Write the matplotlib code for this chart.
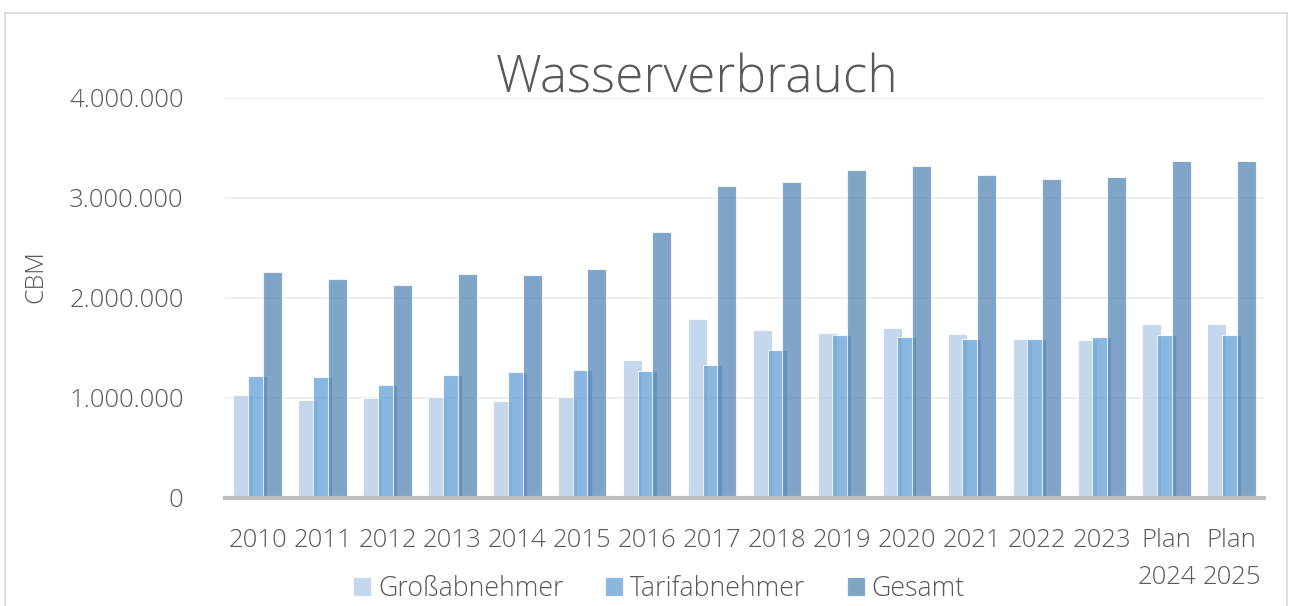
import numpy as np
import matplotlib
matplotlib.use("Agg")
import matplotlib.pyplot as plt
from matplotlib.patches import Rectangle
from matplotlib.ticker import FuncFormatter

categories = ["2010", "2011", "2012", "2013", "2014", "2015", "2016", "2017",
              "2018", "2019", "2020", "2021", "2022", "2023", "Plan\n2024", "Plan\n2025"]
grossabnehmer = [1030000, 980000, 1000000, 1010000, 970000, 1010000, 1380000, 1790000,
                 1680000, 1650000, 1700000, 1640000, 1590000, 1580000, 1740000, 1740000]
tarifabnehmer = [1220000, 1210000, 1130000, 1230000, 1260000, 1280000, 1270000, 1330000,
                 1480000, 1630000, 1610000, 1590000, 1590000, 1610000, 1630000, 1630000]
gesamt = [2260000, 2190000, 2130000, 2240000, 2230000, 2290000, 2660000, 3120000,
          3160000, 3280000, 3320000, 3230000, 3190000, 3210000, 3370000, 3370000]
series_names = ["Großabnehmer", "Tarifabnehmer", "Gesamt"]
yticks = [0, 1000000, 2000000, 3000000, 4000000]

plt.rcParams['font.family'] = ['Open Sans', 'DejaVu Sans']
plt.rcParams['font.weight'] = 'light'
txt = '#595959'

fig = plt.figure(figsize=(12.93, 6.06), dpi=100)
fig.patches.append(Rectangle((5/1293, -0.05), (1287-5)/1293, 1.05 - 13/606,
                             transform=fig.transFigure, fill=False,
                             edgecolor='#D9D9D9', linewidth=1.2))
ax = fig.add_axes([225.2/1293, 1-497.7/606, (1264-225.2)/1293, 400/606])

x = np.arange(len(categories))
w = 0.293
off = 0.226
colors = ['#B2CAE6', '#639FD6', '#5687B8']
alpha = 0.75
for i, (vals, c, name) in enumerate(zip([grossabnehmer, tarifabnehmer, gesamt], colors, series_names)):
    ax.bar(x + (i - 1) * off, vals, width=w, color=c, alpha=alpha,
           edgecolor=(1, 1, 1, 0.5), linewidth=0.8, label=name, zorder=3 + i)

ax.set_xlim(-0.5, len(categories) - 0.5)
ax.set_ylim(0, 4000000)
ax.set_yticks(yticks)
ax.yaxis.set_major_formatter(FuncFormatter(lambda v, p: f"{int(v):,}".replace(",", ".")))
ax.set_xticks(x)
ax.set_xticklabels(categories, linespacing=1.6)
ax.grid(axis='y', color='#EFEFEF', linewidth=1.5, zorder=0)
ax.set_axisbelow(True)
for s in ['top', 'right', 'left']:
    ax.spines[s].set_visible(False)
ax.spines['bottom'].set_color('#BFBFBF')
ax.spines['bottom'].set_linewidth(3)
ax.spines['bottom'].set_zorder(10)
ax.tick_params(axis='both', length=0, labelsize=18.5, colors=txt)
ax.tick_params(axis='y', pad=30)
ax.tick_params(axis='x', pad=22)

fig.text(697/1293, 1-79/606, "Wasserverbrauch", ha='center', va='center',
         fontsize=37, color=txt)
fig.text(36/1293, 1-277/606, "CBM", rotation=90, ha='center', va='center',
         fontsize=18, color=txt)

leg = fig.legend(loc='center', bbox_to_anchor=(659/1293, 1-589/606), ncol=3,
                 frameon=False, fontsize=19.3, handlelength=0.67, handleheight=0.67,
                 handletextpad=0.25, columnspacing=1.55, labelcolor=txt,
                 borderpad=0, borderaxespad=0)

fig.savefig("out.png", dpi=100)
